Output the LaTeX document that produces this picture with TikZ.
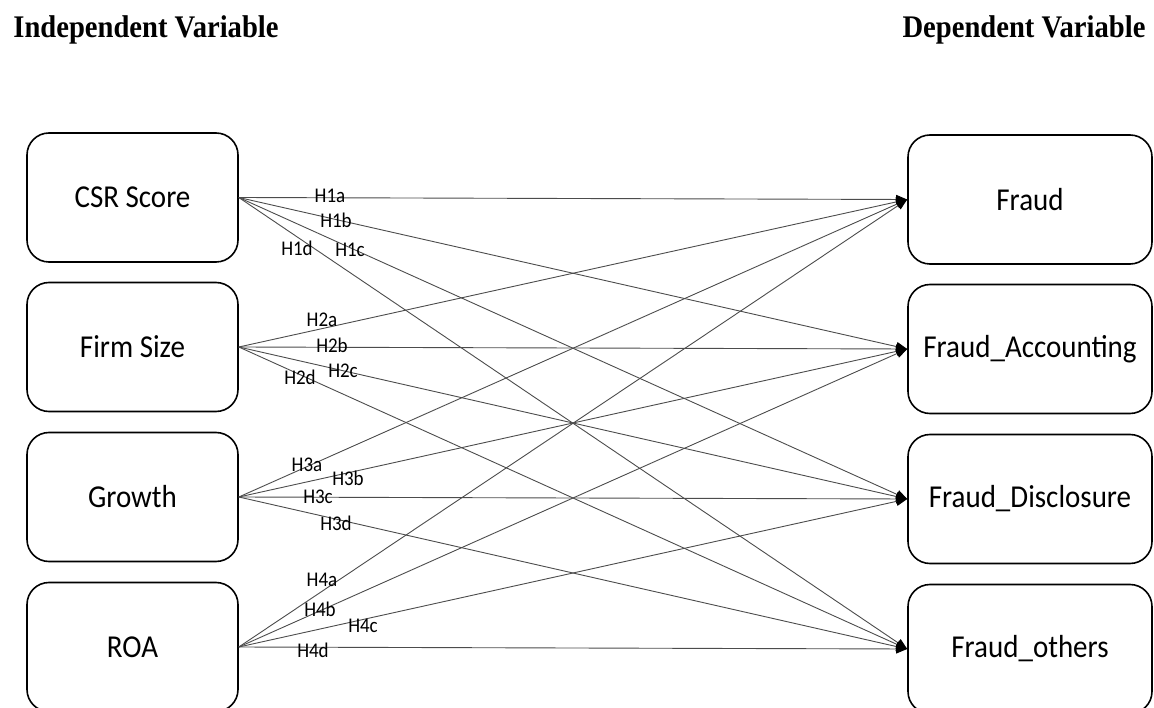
\documentclass[tikz,border=0pt]{standalone}
\usepackage{fontspec}
\usepackage{graphicx}
\setmainfont{Carlito}
\newfontfamily\titlefont{Liberation Serif}
\usetikzlibrary{arrows.meta}
\newcommand{\vstretch}[1]{\scalebox{1}[1.1]{#1}}
\begin{document}
\begin{tikzpicture}[x=1pt,y=-1pt,
  varbox/.style={draw=black,line width=1.6pt,rounded corners=22pt,minimum height=129pt,inner sep=0pt,font=\fontsize{29}{34}\selectfont},
  lbox/.style={varbox,minimum width=211pt},
  rbox/.style={varbox,minimum width=244pt},
  link/.style={draw=black!70,line width=0.9pt,-{Triangle[length=11pt,width=9pt,color=black]}},
  hlab/.style={font=\fontsize{19}{21}\selectfont,inner sep=0pt},
  ttl/.style={font=\titlefont\bfseries\fontsize{28.6}{34}\selectfont,inner sep=0pt}]
\useasboundingbox (0,0) rectangle (1154,708);
\node[ttl] (ti) at (146,30) {\vstretch{Independent Variable}};
\node[ttl] (td) at (1024,30) {\vstretch{Dependent Variable}};
\node[lbox] (csr) at (132.5,197.5) {\vstretch{CSR Score}};
\node[lbox] (size) at (132.5,347) {\vstretch{Firm Size}};
\node[lbox] (grow) at (132.5,497) {\vstretch{Growth}};
\node[lbox] (roa) at (132.5,647) {\vstretch{ROA}};
\node[rbox] (f) at (1030,199.5) {\vstretch{Fraud}};
\node[rbox] (fa) at (1030,349) {\vstretch{Fraud\_Accounting}};
\node[rbox] (fd) at (1030,499) {\vstretch{Fraud\_Disclosure}};
\node[rbox] (fo) at (1030,649) {\vstretch{Fraud\_others}};
\foreach \s in {csr,size,grow,roa}{
  \foreach \t in {f,fa,fd,fo}{
    \draw[link] (\s.east) -- (\t.west);
  }
}
\node[hlab] (h1a) at (330,196) {\vstretch{H1a}};
\node[hlab] (h1b) at (336,220) {\vstretch{H1b}};
\node[hlab] (h1c) at (350,250) {\vstretch{H1c}};
\node[hlab] (h1d) at (297,248) {\vstretch{H1d}};
\node[hlab] (h2a) at (322,320) {\vstretch{H2a}};
\node[hlab] (h2b) at (332,345) {\vstretch{H2b}};
\node[hlab] (h2c) at (343,371) {\vstretch{H2c}};
\node[hlab] (h2d) at (300,377) {\vstretch{H2d}};
\node[hlab] (h3a) at (307,465) {\vstretch{H3a}};
\node[hlab] (h3b) at (348,478) {\vstretch{H3b}};
\node[hlab] (h3c) at (318,497) {\vstretch{H3c}};
\node[hlab] (h3d) at (336,523) {\vstretch{H3d}};
\node[hlab] (h4a) at (322,580) {\vstretch{H4a}};
\node[hlab] (h4b) at (320,609) {\vstretch{H4b}};
\node[hlab] (h4c) at (363,626) {\vstretch{H4c}};
\node[hlab] (h4d) at (313,650) {\vstretch{H4d}};
\end{tikzpicture}
\end{document}
